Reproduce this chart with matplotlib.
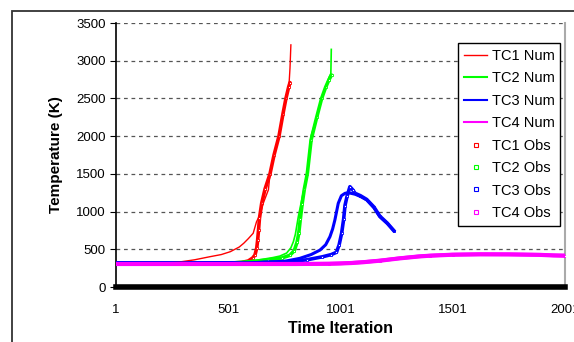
import matplotlib
matplotlib.use("Agg")
import matplotlib.pyplot as plt
from matplotlib.lines import Line2D
from matplotlib.patches import Rectangle

plt.rcParams["font.family"] = ["Liberation Sans", "DejaVu Sans"]

# values
tc1_num_x = [1, 100, 200, 280, 350, 420, 470, 510, 550, 570, 590, 612, 627, 642, 657, 680, 687, 705, 727, 745, 758, 772, 776, 780]
tc1_num_y = [310, 310, 312, 330, 360, 402, 430, 468, 530, 580, 640, 712, 866, 955, 1110, 1290, 1500, 1750, 2000, 2300, 2500, 2700, 2900, 3210]
tc1_obs_x = [1, 100, 200, 300, 400, 500, 560, 590, 610, 620, 628, 632, 636, 640, 650, 665, 687, 705, 727, 745, 758, 770, 776]
tc1_obs_y = [310, 308, 312, 310, 312, 315, 325, 345, 385, 424, 520, 623, 760, 910, 1110, 1300, 1500, 1750, 2000, 2300, 2500, 2650, 2710]

tc2_num_x = [1, 300, 500, 583, 650, 700, 731, 761, 780, 791, 800, 813, 828, 840, 853, 870, 895, 917, 935, 950, 958, 960]
tc2_num_y = [310, 312, 315, 340, 365, 390, 410, 450, 520, 600, 700, 930, 1150, 1320, 1500, 2000, 2250, 2500, 2650, 2780, 2830, 3150]
tc2_obs_x = [1, 300, 500, 600, 680, 740, 775, 795, 808, 815, 822, 830, 840, 853, 870, 895, 917, 935, 950, 961]
tc2_obs_y = [310, 312, 315, 335, 360, 385, 420, 480, 600, 712, 900, 1100, 1300, 1500, 1950, 2250, 2500, 2650, 2750, 2810]

tc3_num_x = [1, 300, 600, 700, 760, 820, 870, 910, 935, 954, 966, 976, 991, 1005, 1021, 1036, 1066, 1090, 1118, 1150, 1176, 1210, 1240]
tc3_num_y = [320, 320, 322, 330, 345, 380, 430, 490, 560, 667, 770, 889, 1110, 1210, 1242, 1250, 1230, 1200, 1154, 1050, 932, 840, 745]
tc3_obs_x = [1, 300, 600, 760, 850, 920, 960, 983, 995, 1006, 1015, 1021, 1030, 1043, 1055, 1066, 1090, 1118, 1150, 1176, 1210, 1240]
tc3_obs_y = [320, 318, 322, 335, 360, 400, 430, 460, 560, 712, 900, 1080, 1200, 1330, 1290, 1242, 1210, 1160, 1060, 940, 845, 740]

tc4_num_x = [1, 200, 400, 600, 800, 950, 1001, 1050, 1100, 1177, 1266, 1350, 1400, 1500, 1622, 1750, 1890, 1950, 2001]
tc4_num_y = [305, 305, 305, 305, 305, 308, 312, 318, 328, 349, 380, 405, 415, 428, 433, 432, 426, 418, 415]
tc4_obs_x = [1, 200, 400, 600, 800, 950, 1001, 1050, 1100, 1177, 1266, 1350, 1400, 1500, 1622, 1750, 1890, 1950, 2001]
tc4_obs_y = [308, 308, 307, 306, 306, 309, 313, 320, 330, 350, 382, 406, 416, 429, 434, 433, 427, 420, 416]

x_ticks = [1, 501, 1001, 1501, 2001]
y_ticks = [0, 500, 1000, 1500, 2000, 2500, 3000, 3500]

RED, GREEN, BLUE, MAGENTA = "#ff0000", "#00ff00", "#0000ff", "#ff00ff"

fig = plt.figure(figsize=(5.74, 3.42), dpi=100)
ax = fig.add_axes([116 / 574, 55 / 342, 449 / 574, 264 / 342])

# observations: dense hollow squares that read as a thick band
for xs, ys, c in [(tc1_obs_x, tc1_obs_y, RED), (tc2_obs_x, tc2_obs_y, GREEN),
                  (tc3_obs_x, tc3_obs_y, BLUE), (tc4_obs_x, tc4_obs_y, MAGENTA)]:
    ax.plot(xs, ys, color=c, lw=2.6, solid_capstyle="round", solid_joinstyle="round", zorder=3)
    ax.plot(xs, ys, ls="none", marker="s", ms=1.6, mfc="white", mec=c, mew=0.6, zorder=3)

ax.plot(tc1_num_x, tc1_num_y, color=RED, lw=1.0, zorder=4)
ax.plot(tc2_num_x, tc2_num_y, color=GREEN, lw=1.2, zorder=4)
ax.plot(tc3_num_x, tc3_num_y, color=BLUE, lw=2.2, zorder=4)
ax.plot(tc4_num_x, tc4_num_y, color=MAGENTA, lw=3.0, zorder=4)

ax.axhline(0, color="black", lw=4, zorder=5, clip_on=False)

ax.set_xlim(1, 2001)
ax.set_ylim(0, 3500)
ax.set_xticks(x_ticks)
ax.set_yticks(y_ticks)
ax.tick_params(axis="both", labelsize=9.5, length=4, direction="out", colors="black")
ax.tick_params(axis="x", length=0, pad=12)
ax.grid(axis="y", color="#555555", ls=(0, (3, 3)), lw=0.9)
ax.set_axisbelow(True)

ax.spines["top"].set_visible(False)
ax.spines["bottom"].set_visible(False)
ax.spines["right"].set_color("#aaaaaa")
ax.spines["right"].set_linewidth(1.5)
ax.spines["left"].set_linewidth(1.2)

ax.set_xlabel("Time Iteration", fontsize=11.5, fontweight="bold", labelpad=4)
ax.set_ylabel("Temperature (K)", fontsize=11, fontweight="bold", labelpad=9)

handles = [
    Line2D([], [], color=RED, lw=1.0),
    Line2D([], [], color=GREEN, lw=1.5),
    Line2D([], [], color=BLUE, lw=1.5),
    Line2D([], [], color=MAGENTA, lw=1.5),
    Line2D([], [], ls="none", marker="s", ms=2.5, mfc="white", mec=RED, mew=0.8),
    Line2D([], [], ls="none", marker="s", ms=2.5, mfc="white", mec=GREEN, mew=0.8),
    Line2D([], [], ls="none", marker="s", ms=2.5, mfc="white", mec=BLUE, mew=0.8),
    Line2D([], [], ls="none", marker="s", ms=2.5, mfc="white", mec=MAGENTA, mew=0.8),
]
labels = ["TC1 Num", "TC2 Num", "TC3 Num", "TC4 Num", "TC1 Obs", "TC2 Obs", "TC3 Obs", "TC4 Obs"]
leg = ax.legend(handles, labels, loc="upper left", bbox_to_anchor=(342 / 449, 244 / 264),
                borderaxespad=0, fontsize=10.5, frameon=True, fancybox=False,
                edgecolor="black", framealpha=1, handlelength=1.6, handletextpad=0.3,
                labelspacing=0.58, borderpad=0.4)
leg.get_frame().set_linewidth(1.0)

# outer chart border (cut by the image edges)
fig.patches.append(Rectangle((12 / 574, -0.1), 1.2, (342 - 11) / 342 + 0.1,
                             transform=fig.transFigure, fill=False, ec="#333333", lw=1.3))

fig.savefig("out.png", dpi=100)
